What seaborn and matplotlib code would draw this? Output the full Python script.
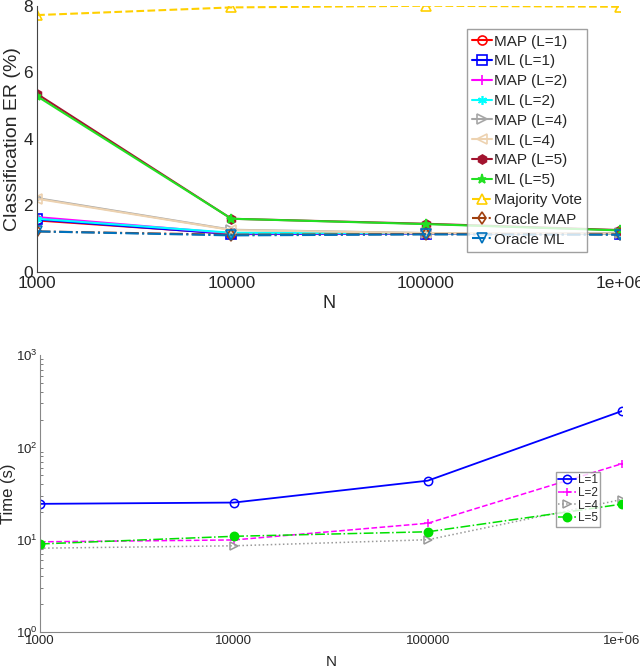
import numpy as np
import pandas as pd
import matplotlib
matplotlib.use("Agg")
import matplotlib.pyplot as plt
import seaborn as sns

# -----------------------------
# Data
# -----------------------------
N = [1000, 10000, 100000, 1000000]
n_labels = ["1000", "10000", "100000", "1e+06"]

er_labels = ["MAP (L=1)", "ML (L=1)", "MAP (L=2)", "ML (L=2)", "MAP (L=4)",
             "ML (L=4)", "MAP (L=5)", "ML (L=5)", "Majority Vote",
             "Oracle MAP", "Oracle ML"]
er_map_l1 = [1.55, 1.15, 1.15, 1.15]
er_ml_l1 = [1.58, 1.14, 1.15, 1.15]
er_map_l2 = [1.65, 1.16, 1.16, 1.15]
er_ml_l2 = [1.60, 1.18, 1.16, 1.15]
er_map_l4 = [2.22, 1.27, 1.17, 1.16]
er_ml_l4 = [2.20, 1.26, 1.17, 1.16]
er_map_l5 = [5.35, 1.60, 1.45, 1.26]
er_ml_l5 = [5.28, 1.60, 1.44, 1.25]
er_mv = [7.72, 7.95, 8.00, 7.97]
er_oracle_map = [1.22, 1.12, 1.14, 1.13]
er_oracle_ml = [1.22, 1.10, 1.13, 1.12]

time_labels = ["L=1", "L=2", "L=4", "L=5"]
time_l1 = [24.5, 25.3, 43.7, 248]
time_l2 = [9.5, 9.95, 15.1, 66.6]
time_l4 = [8.1, 8.6, 10.0, 27.3]
time_l5 = [9.0, 10.9, 12.2, 24.3]

# -----------------------------
# Styles
# -----------------------------
er_series = [er_map_l1, er_ml_l1, er_map_l2, er_ml_l2, er_map_l4, er_ml_l4,
             er_map_l5, er_ml_l5, er_mv, er_oracle_map, er_oracle_ml]
er_styles = [
    dict(color="#FF0000", marker="o", ls="-", mfc="none"),
    dict(color="#0000FF", marker="s", ls="-", mfc="none"),
    dict(color="#FF00FF", marker="+", ls="-", mfc="none"),
    dict(color="#00FFFF", marker=(6, 2, 0), ls="-", mfc="none"),
    dict(color="#A6A6A6", marker=">", ls="-", mfc="none"),
    dict(color="#EDD2B0", marker="<", ls="-", mfc="none"),
    dict(color="#A2142F", marker="h", ls="-", mfc="#A2142F"),
    dict(color="#22E022", marker="*", ls="-", mfc="#22E022"),
    dict(color="#FFD000", marker="^", ls="--", mfc="none"),
    dict(color="#A0400F", marker="d", ls="-.", mfc="none"),
    dict(color="#0072BD", marker="v", ls="-.", mfc="none"),
]

time_series = [time_l1, time_l2, time_l4, time_l5]
time_styles = [
    dict(color="#0000FF", marker="o", ls="-", mfc="none", lw=1.3),
    dict(color="#FF00FF", marker="+", ls="--", mfc="none", lw=1.1),
    dict(color="#999999", marker=">", ls=":", mfc="none", lw=1.1),
    dict(color="#00E000", marker="o", ls="-.", mfc="#00E000", lw=1.1),
]

rows = []
for lab, vals in zip(er_labels, er_series):
    for n, v in zip(N, vals):
        rows.append({"N": n, "ER": v, "method": lab})
df_er = pd.DataFrame(rows)

rows = []
for lab, vals in zip(time_labels, time_series):
    for n, v in zip(N, vals):
        rows.append({"N": n, "Time": v, "L": lab})
df_time = pd.DataFrame(rows)

sns.set_style("white")
plt.rcParams["font.family"] = ["Liberation Sans", "DejaVu Sans"]

fig = plt.figure(figsize=(6.4, 6.69), dpi=100)
ax1 = fig.add_axes([0.058, 0.5934, 0.911, 0.398])
ax2 = fig.add_axes([0.0625, 0.0553, 0.909, 0.4137])

# -----------------------------
# Top: classification error
# -----------------------------
for lab, st in zip(er_labels, er_styles):
    d = df_er[df_er["method"] == lab]
    sns.lineplot(data=d, x="N", y="ER", ax=ax1, label=lab, color=st["color"],
                 marker=st["marker"], linestyle=st["ls"], markersize=6.5,
                 markerfacecolor=st["mfc"], markeredgecolor=st["color"],
                 markeredgewidth=1.2, linewidth=1.5)
ax1.set_xscale("log")
ax1.set_xlim(1000, 1e6)
ax1.set_ylim(0, 8)
ax1.set_xticks(N)
ax1.set_xticklabels(n_labels)
ax1.xaxis.set_minor_locator(matplotlib.ticker.NullLocator())
ax1.set_yticks([0, 2, 4, 6, 8])
ax1.set_xlabel("N", fontsize=13, labelpad=3)
ax1.set_ylabel("Classification ER (%)", fontsize=14, labelpad=2)
ax1.tick_params(axis="both", direction="in", labelsize=12.5, length=4,
                color="#444444", pad=3)
for s in ["top", "right"]:
    ax1.spines[s].set_visible(False)
for s in ["left", "bottom"]:
    ax1.spines[s].set_color("#444444")
leg1 = ax1.legend(loc="upper right", bbox_to_anchor=(0.943, 0.912), fontsize=11,
                  handlelength=1.3, handletextpad=0.1, labelspacing=0.38,
                  borderpad=0.35, frameon=True, fancybox=False, borderaxespad=0)
leg1.get_frame().set_edgecolor("#888888")
leg1.get_frame().set_linewidth(1.0)

# -----------------------------
# Bottom: running time
# -----------------------------
for lab, st in zip(time_labels, time_styles):
    d = df_time[df_time["L"] == lab]
    sns.lineplot(data=d, x="N", y="Time", ax=ax2, label=lab, color=st["color"],
                 marker=st["marker"], linestyle=st["ls"], markersize=6,
                 markerfacecolor=st["mfc"], markeredgecolor=st["color"],
                 markeredgewidth=1.1, linewidth=st["lw"])
ax2.set_xscale("log")
ax2.set_yscale("log")
ax2.set_xlim(1000, 1e6)
ax2.set_ylim(1, 1000)
ax2.set_xticks(N)
ax2.set_xticklabels(n_labels)
ax2.xaxis.set_minor_locator(matplotlib.ticker.NullLocator())
ax2.set_xlabel("N", fontsize=11, labelpad=6)
ax2.set_ylabel("Time (s)", fontsize=12)
ax2.yaxis.set_label_coords(-0.042, 0.5)
ax2.tick_params(axis="both", which="both", direction="in", labelsize=9.5,
                color="#666666", pad=2)
ax2.tick_params(which="major", length=4)
ax2.tick_params(which="minor", length=2, left=True)
for s in ["top", "right"]:
    ax2.spines[s].set_visible(False)
for s in ["left", "bottom"]:
    ax2.spines[s].set_color("#888888")
leg2 = ax2.legend(loc="upper left", bbox_to_anchor=(0.887, 0.578), fontsize=8.5,
                  handlelength=1.5, handletextpad=0.15, labelspacing=0.05,
                  borderpad=0.2, frameon=True, fancybox=False, borderaxespad=0)
leg2.get_frame().set_edgecolor("#888888")
leg2.get_frame().set_linewidth(1.0)

fig.savefig("out.png", dpi=100)
